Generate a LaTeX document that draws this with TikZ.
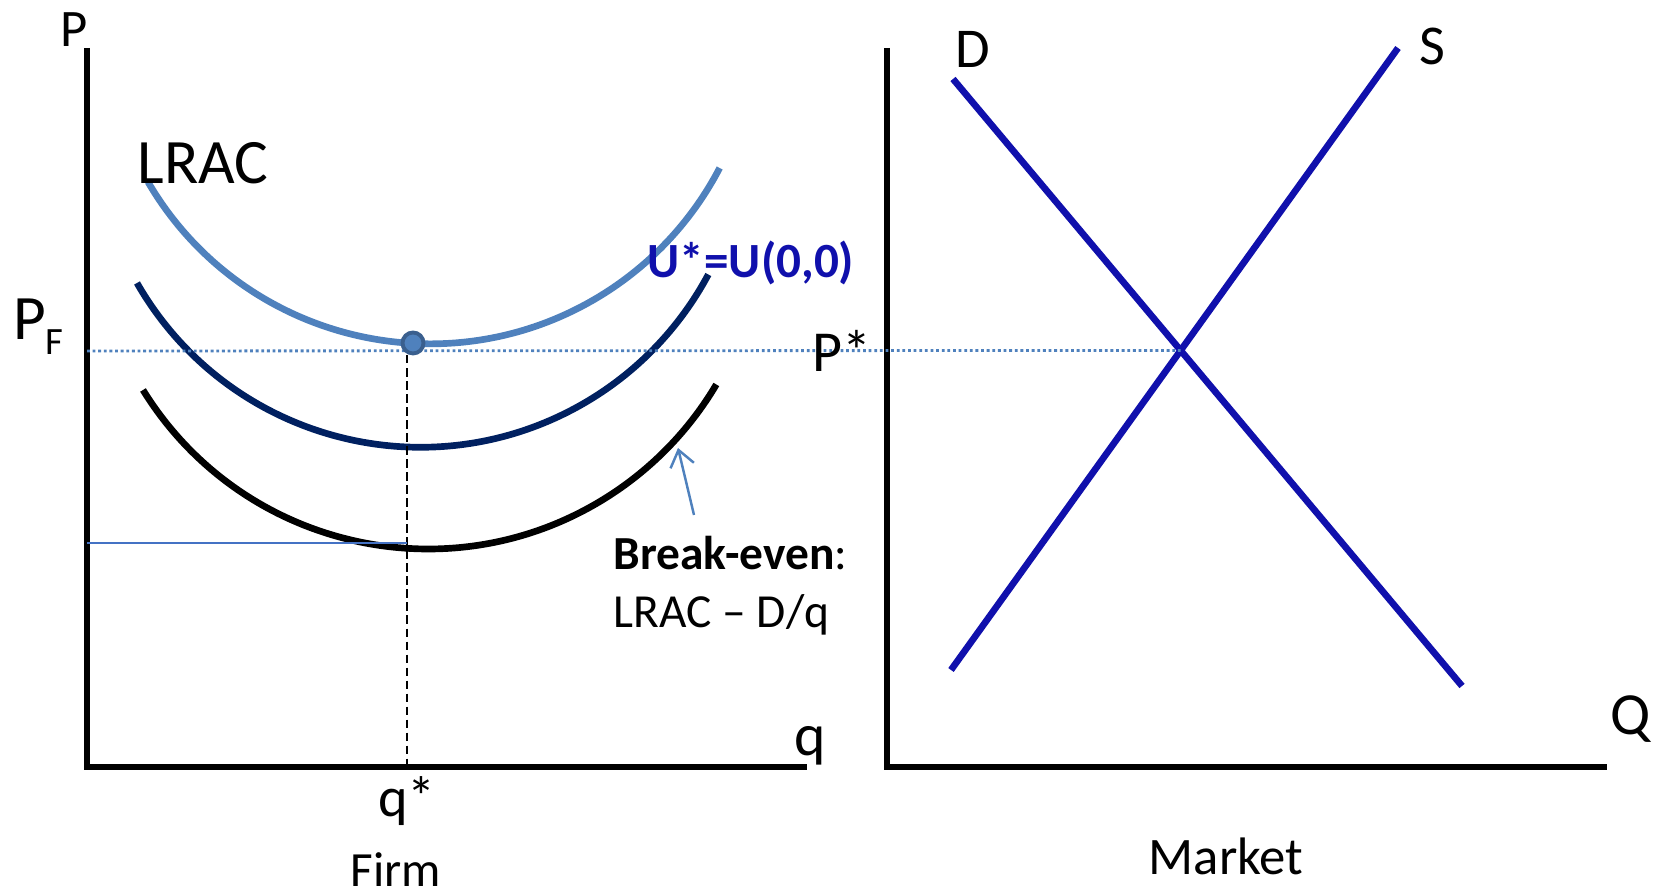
\documentclass[tikz,border=0pt]{standalone}
\usepackage{fontspec}
\setmainfont{Carlito}
\usetikzlibrary{arrows.meta}
\definecolor{accent}{HTML}{4F81BD}
\definecolor{accentdark}{HTML}{3A5F8E}
\definecolor{navy}{HTML}{002060}
\definecolor{royal}{HTML}{1010AC}
\definecolor{rule}{HTML}{4472C4}

\begin{document}
\begin{tikzpicture}[
    axis/.style={line width=1.9pt, black},
    curve/.style={line width=1.9pt},
    txt/.style={font=\fontsize{#1}{#1}\selectfont, anchor=base, inner sep=0pt}]
    \useasboundingbox (0,0) rectangle (16.55,8.96);

        % Ejes empresa y mercado
        \draw[axis] (0.87,8.48) -- (0.87,1.29) -- (8.07,1.29);
        \draw[axis] (8.87,8.48) -- (8.87,1.29) -- (16.07,1.29);

        % Curvas LRAC
        \draw[curve, accent] (1.48,7.14) arc[start angle=210.3, end angle=332.5, radius=3.266];
        \draw[curve, navy] (1.37,6.13) arc[start angle=209.8, end angle=331.9, radius=3.265];
        \draw[curve, black] (1.43,5.06) arc[start angle=211.7, end angle=329.4, radius=3.35];

        % Oferta y demanda
        \coordinate (d1) at (9.53,8.17);
        \coordinate (d2) at (14.62,2.10);
        \coordinate (s1) at (9.51,2.26);
        \coordinate (s2) at (13.98,8.48);
        \draw[curve, royal] (d1) -- (d2);
        \draw[curve, royal] (s1) -- (s2);
        \coordinate (eq) at (intersection of d1--d2 and s1--s2);

        % Precio y punto optimo
        \draw[accent, line width=0.8pt, dash pattern=on 0.8pt off 0.8pt] (0.87,5.45) -- (eq);
        \coordinate (qstar) at (4.07,1.29);
        \node[circle, fill=accent, draw=accentdark, line width=1.1pt, minimum size=0.21cm, inner sep=0pt] (opt) at (4.13,5.53) {};
        \draw[black, line width=0.7pt, dash pattern=on 2.3pt off 1.4pt] (opt.south -| qstar) -- (qstar);
        \draw[rule, line width=0.8pt] (0.87,3.53) -- (4.07,3.53);

        % Textos
        \node[txt=15] (pfirm) at (0.74,8.49) {P};
        \node[txt=18] (lrac) at (2.03,7.12) {LRAC};
        \node[txt=18] (pf) at (0.385,5.56) {P\raisebox{-1.5mm}{\fontsize{11}{11}\selectfont F}};
        \node[txt=16.5] (pstar) at (8.42,5.24) {P*};
        \node[txt=14, font=\fontsize{14}{14}\selectfont\bfseries, text=royal] (ustar) at (7.51,6.18) {U*=U(0,0)};
        \node[txt=16] (dlab) at (9.73,8.28) {D};
        \node[txt=16] (slab) at (14.32,8.31) {S};
        \node[txt=17] (qlab) at (16.31,1.61) {Q};
        \node[txt=17] (qfirm) at (8.10,1.40) {q};
        \node[txt=16] (qstarlab) at (4.07,0.79) {q*};
        \node[txt=14] (firm) at (3.96,0.09) {Firm};
        \node[txt=15] (market) at (12.26,0.21) {Market};
        \node[txt=13.5, anchor=base west] (be) at (6.13,3.26) {\textbf{Break-even}:};
        \node[txt=13.5, anchor=base west] (belrac) at (6.13,2.68) {LRAC -- D/q};

        % Flecha break-even
        \coordinate (tail) at (6.94,3.81);
        \coordinate (tip) at (6.78,4.48);
        \draw[accent, line width=0.7pt, -{Straight Barb[length=1.6mm, width=2.4mm]}] (tail) -- (tip);
    \end{tikzpicture}
\end{document}
